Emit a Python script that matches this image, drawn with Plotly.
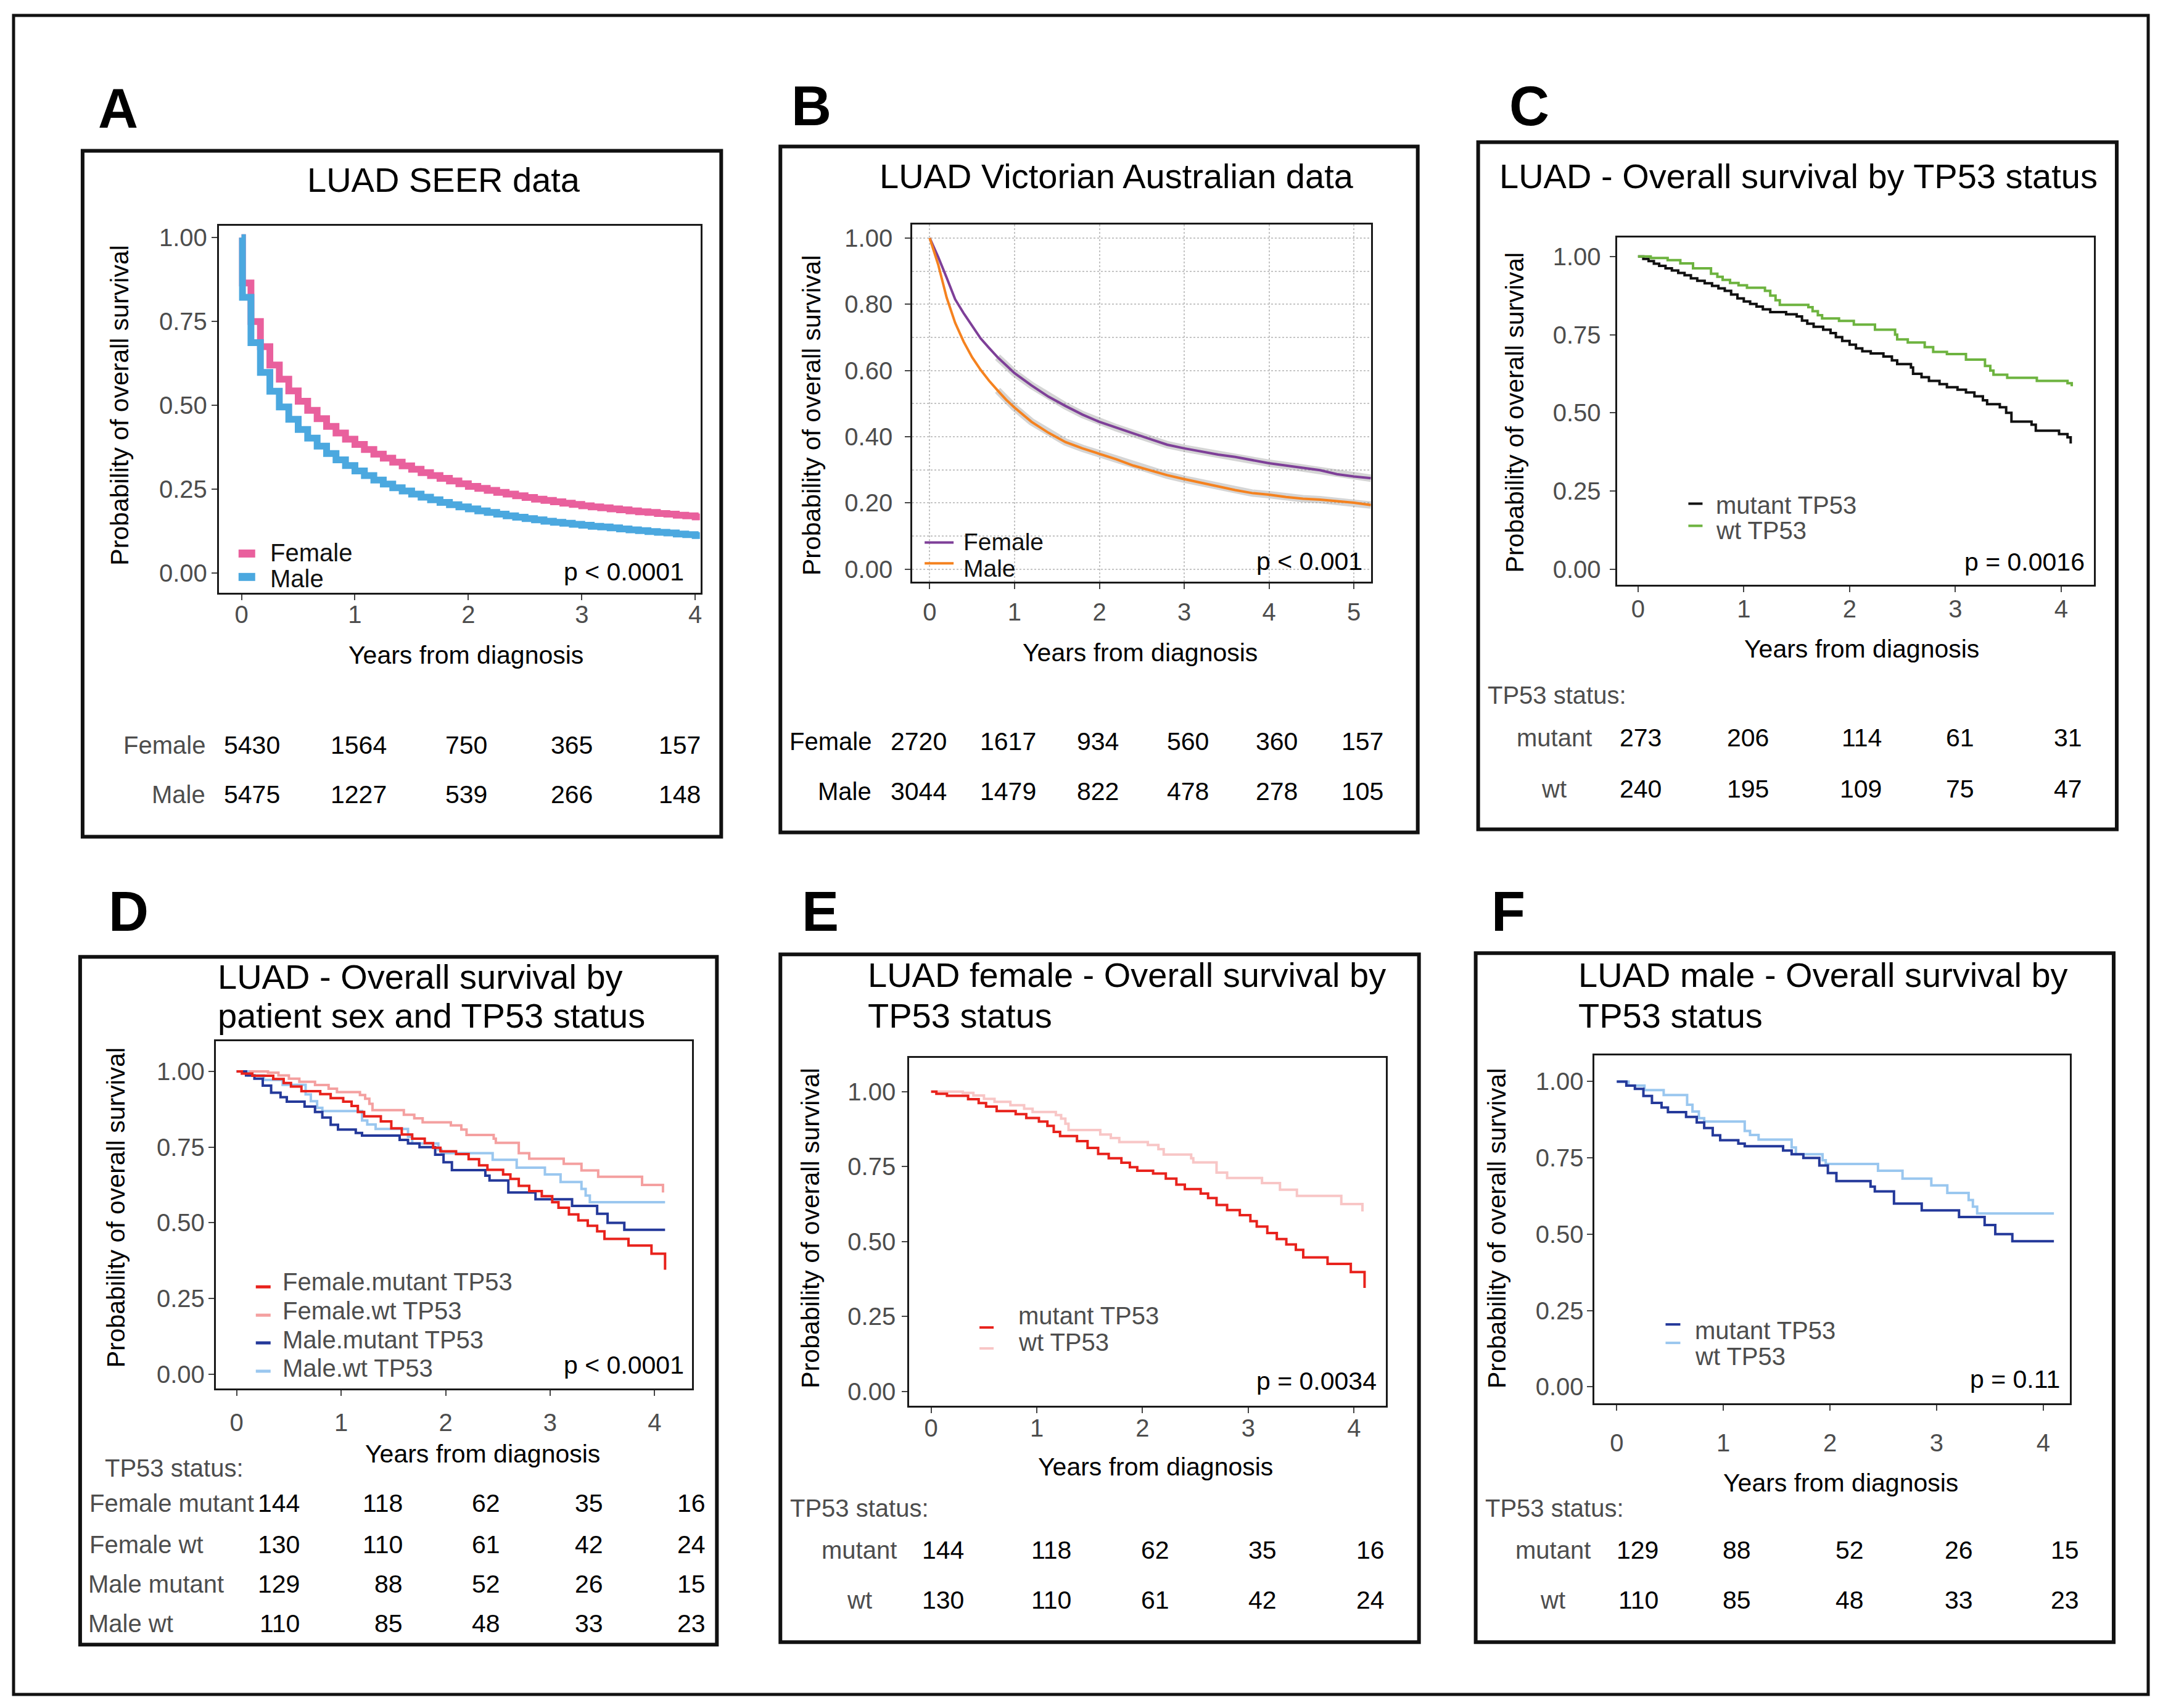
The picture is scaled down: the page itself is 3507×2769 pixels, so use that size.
import plotly.graph_objects as go

W, H = 3507, 2769
FONT = "Liberation Sans, Arial, Helvetica, sans-serif"

# ---------------- DATA ----------------
# Panel A: LUAD SEER data (monthly Kaplan-Meier steps)
seer_months = [0, 0.1, 1, 2, 3, 4, 5, 6, 7, 8, 9, 10, 11, 12, 13, 14, 15, 16, 17, 18, 19, 20,
               21, 22, 23, 24, 25, 26, 27, 28, 29, 30, 31, 32, 33, 34, 35, 36, 37, 38, 39, 40,
               41, 42, 43, 44, 45, 46, 47, 48, 48.5]
seer_female = [1.0, 0.865, 0.75, 0.675, 0.62, 0.578, 0.543, 0.512, 0.485, 0.46, 0.437, 0.417,
               0.399, 0.383, 0.368, 0.354, 0.342, 0.33, 0.319, 0.309, 0.299, 0.29, 0.282, 0.274,
               0.266, 0.258, 0.252, 0.246, 0.24, 0.235, 0.23, 0.225, 0.22, 0.216, 0.212, 0.208,
               0.204, 0.2, 0.197, 0.194, 0.191, 0.188, 0.185, 0.182, 0.18, 0.177, 0.175, 0.172,
               0.17, 0.167, 0.167]
seer_male = [1.0, 0.822, 0.687, 0.598, 0.542, 0.495, 0.458, 0.428, 0.402, 0.378, 0.356, 0.337,
             0.32, 0.304, 0.29, 0.277, 0.265, 0.254, 0.244, 0.235, 0.226, 0.218, 0.21, 0.203,
             0.197, 0.191, 0.185, 0.18, 0.175, 0.17, 0.166, 0.162, 0.158, 0.154, 0.151, 0.148,
             0.145, 0.142, 0.139, 0.137, 0.134, 0.131, 0.128, 0.126, 0.123, 0.121, 0.119, 0.116,
             0.114, 0.111, 0.111]
seer_risk_female = [5430, 1564, 750, 365, 157]
seer_risk_male = [5475, 1227, 539, 266, 148]

# Panel B: LUAD Victorian Australian data
vic_years = [0, 0.1, 0.2, 0.3, 0.4, 0.5, 0.6, 0.7, 0.8, 0.9, 1.0, 1.2, 1.4, 1.6, 1.8, 2.0, 2.2,
             2.4, 2.6, 2.8, 3.0, 3.2, 3.4, 3.6, 3.8, 4.0, 4.2, 4.4, 4.6, 4.8, 5.0, 5.2]
vic_female = [1.0, 0.943, 0.88, 0.815, 0.773, 0.735, 0.697, 0.668, 0.64, 0.616, 0.592, 0.555,
              0.521, 0.493, 0.467, 0.445, 0.427, 0.41, 0.393, 0.376, 0.365, 0.355, 0.346, 0.339,
              0.329, 0.32, 0.313, 0.306, 0.299, 0.287, 0.28, 0.275]
vic_male = [1.0, 0.92, 0.82, 0.744, 0.687, 0.64, 0.602, 0.569, 0.54, 0.512, 0.488, 0.445, 0.412,
            0.384, 0.365, 0.348, 0.332, 0.313, 0.299, 0.284, 0.272, 0.261, 0.249, 0.239, 0.23,
            0.225, 0.218, 0.213, 0.21, 0.206, 0.201, 0.194]
vic_risk_female = [2720, 1617, 934, 560, 360, 157]
vic_risk_male = [3044, 1479, 822, 478, 278, 105]

# Panel C: overall survival by TP53 status
c_mut_t = [0, 0.05, 0.1, 0.15, 0.2, 0.26, 0.32, 0.38, 0.44, 0.5, 0.56, 0.63, 0.7, 0.76, 0.82,
           0.88, 0.94, 1.0, 1.06, 1.12, 1.18, 1.25, 1.4, 1.5, 1.55, 1.6, 1.66, 1.75, 1.82, 1.87,
           1.93, 2.0, 2.06, 2.12, 2.2, 2.32, 2.4, 2.45, 2.58, 2.6, 2.68, 2.75, 2.85, 2.92, 3.02,
           3.1, 3.18, 3.26, 3.3, 3.42, 3.48, 3.53, 3.72, 3.76, 3.98, 4.06, 4.09]
c_mut_s = [1.0, 0.992, 0.985, 0.977, 0.97, 0.962, 0.955, 0.947, 0.94, 0.93, 0.922, 0.914, 0.906,
           0.898, 0.89, 0.878, 0.866, 0.856, 0.848, 0.84, 0.831, 0.822, 0.815, 0.808, 0.795,
           0.785, 0.775, 0.766, 0.755, 0.742, 0.73, 0.718, 0.706, 0.697, 0.69, 0.68, 0.668,
           0.656, 0.645, 0.625, 0.614, 0.602, 0.592, 0.582, 0.574, 0.565, 0.553, 0.54, 0.528,
           0.518, 0.5, 0.472, 0.462, 0.443, 0.432, 0.422, 0.402]
c_wt_t = [0, 0.12, 0.28, 0.4, 0.52, 0.69, 0.75, 0.8, 0.87, 0.95, 1.03, 1.2, 1.25, 1.3, 1.34,
          1.61, 1.65, 1.7, 1.74, 1.9, 2.04, 2.24, 2.43, 2.45, 2.55, 2.71, 2.79, 2.92, 3.1, 3.28,
          3.33, 3.36, 3.49, 3.77, 4.06, 4.1]
c_wt_s = [1.0, 0.995, 0.988, 0.978, 0.962, 0.945, 0.935, 0.925, 0.915, 0.908, 0.9, 0.89, 0.875,
          0.86, 0.845, 0.838, 0.825, 0.812, 0.802, 0.794, 0.782, 0.766, 0.75, 0.735, 0.725, 0.71,
          0.695, 0.688, 0.67, 0.65, 0.635, 0.622, 0.612, 0.602, 0.595, 0.585]
c_risk_mut = [273, 206, 114, 61, 31]
c_risk_wt = [240, 195, 109, 75, 47]

# Panels D/E/F: by sex and TP53 status
fm_t = [0, 0.05, 0.15, 0.35, 0.45, 0.52, 0.62, 0.8, 0.9, 1.02, 1.1, 1.16, 1.22, 1.38, 1.48, 1.58,
        1.68, 1.8, 1.88, 1.95, 2.1, 2.22, 2.32, 2.4, 2.55, 2.62, 2.7, 2.8, 2.92, 3.02, 3.08,
        3.18, 3.27, 3.36, 3.45, 3.52, 3.75, 3.97, 4.1]
fm_s = [1.0, 0.993, 0.986, 0.975, 0.962, 0.95, 0.935, 0.925, 0.912, 0.9, 0.886, 0.866, 0.852,
        0.835, 0.812, 0.792, 0.778, 0.763, 0.748, 0.736, 0.727, 0.71, 0.69, 0.675, 0.66, 0.645,
        0.622, 0.605, 0.588, 0.568, 0.55, 0.528, 0.508, 0.49, 0.472, 0.447, 0.425, 0.398, 0.345]
fw_t = [0, 0.3, 0.4, 0.5, 0.6, 0.75, 0.88, 0.96, 1.18, 1.23, 1.27, 1.3, 1.6, 1.7, 1.78, 2.05,
        2.15, 2.2, 2.46, 2.48, 2.7, 2.8, 3.13, 3.3, 3.46, 3.88, 4.08]
fw_s = [1.0, 0.996, 0.987, 0.976, 0.966, 0.955, 0.943, 0.932, 0.922, 0.91, 0.893, 0.872, 0.857,
        0.845, 0.832, 0.822, 0.808, 0.79, 0.778, 0.764, 0.73, 0.712, 0.695, 0.673, 0.652, 0.625,
        0.6]
mm_t = [0, 0.09, 0.17, 0.25, 0.33, 0.42, 0.48, 0.65, 0.75, 0.82, 0.9, 0.97, 1.14, 1.2, 1.56,
        1.64, 1.75, 1.9, 1.98, 2.06, 2.38, 2.42, 2.6, 2.86, 3.21, 3.45, 3.55, 3.71, 4.1]
mm_s = [1.0, 0.987, 0.976, 0.953, 0.93, 0.915, 0.9, 0.884, 0.866, 0.848, 0.824, 0.808, 0.797,
        0.788, 0.774, 0.762, 0.75, 0.725, 0.7, 0.674, 0.656, 0.64, 0.6, 0.578, 0.556, 0.53, 0.5,
        0.477, 0.477]
mw_t = [0, 0.11, 0.26, 0.44, 0.66, 0.71, 0.77, 0.82, 1.2, 1.25, 1.33, 1.64, 1.68, 1.93, 1.96,
        2.45, 2.68, 2.95, 3.1, 3.3, 3.34, 3.38, 4.1]
mw_s = [1.0, 0.987, 0.972, 0.956, 0.924, 0.902, 0.88, 0.869, 0.838, 0.825, 0.81, 0.784, 0.762,
        0.742, 0.73, 0.708, 0.682, 0.66, 0.635, 0.612, 0.59, 0.568, 0.568]
risk_fm = [144, 118, 62, 35, 16]
risk_fw = [130, 110, 61, 42, 24]
risk_mm = [129, 88, 52, 26, 15]
risk_mw = [110, 85, 48, 33, 23]

# ---------------- STYLE / LAYOUT ----------------
PINK_A, BLUE_A = "#E9609D", "#4BA8DF"
PURPLE, ORANGE = "#7E3F98", "#F5821F"
BLACK_C, GREEN_C = "#111111", "#6DB33F"
RED, SALMON, LIGHTPINK = "#E8221C", "#F4A0A0", "#F8C6C6"
NAVY, SKY = "#24399A", "#9AC7EF"
GREY_TXT = "#4D4D4D"

fig = go.Figure()
ann = []
shapes = []


def px(x):
    return x / W


def py(y):
    return 1 - y / H


def text(x, y, s, size=40, color="#000000", xa="center", ya="middle", angle=0, pad=1):
    ann.append(dict(x=px(x), y=py(y), xref="paper", yref="paper", text=s, showarrow=False,
                    xanchor=xa, yanchor=ya, textangle=angle, borderpad=pad,
                    font=dict(family=FONT, size=size, color=color)))


def rect(x0, y0, x1, y1, w):
    shapes.append(dict(type="rect", xref="paper", yref="paper", x0=px(x0), x1=px(x1),
                       y0=py(y1), y1=py(y0), line=dict(color="#111111", width=w),
                       fillcolor="rgba(0,0,0,0)", layer="below"))


def legline(x0, x1, y, color, w):
    shapes.append(dict(type="line", xref="paper", yref="paper", x0=px(x0), x1=px(x1),
                       y0=py(y), y1=py(y), line=dict(color=color, width=w), layer="above"))


QUARTER = [0, 0.25, 0.5, 0.75, 1.0]
PANELS = [
    dict(n=1, plot=(355, 364, 1137, 960), xr=[-0.2, 4.05], yr=[-0.06, 1.035],
         xt=[0, 1, 2, 3, 4], yt=QUARTER, xs=-11, ys=-1),
    dict(n=2, plot=(1480, 362, 2224, 942), xr=[-0.205, 5.2], yr=[-0.038, 1.04],
         xt=[0, 1, 2, 3, 4, 5], yt=[0, 0.2, 0.4, 0.6, 0.8, 1.0], xs=3, ys=12, grid=True),
    dict(n=3, plot=(2623, 383, 3397, 947), xr=[-0.2, 4.31], yr=[-0.05, 1.06],
         xt=[0, 1, 2, 3, 4], yt=QUARTER, xs=-7, ys=6),
    dict(n=4, plot=(350, 1688, 1123, 2252), xr=[-0.2, 4.36], yr=[-0.047, 1.10],
         xt=[0, 1, 2, 3, 4], yt=QUARTER, xs=9, ys=-2),
    dict(n=5, plot=(1475, 1715, 2248, 2280), xr=[-0.207, 4.3], yr=[-0.048, 1.113],
         xt=[0, 1, 2, 3, 4], yt=QUARTER, xs=-10, ys=2),
    dict(n=6, plot=(2586, 1711, 3358, 2276), xr=[-0.213, 4.25], yr=[-0.054, 1.086],
         xt=[0, 1, 2, 3, 4], yt=QUARTER, xs=18, ys=-3),
]

layout_axes = {}
for p in PANELS:
    n = p["n"]
    x0, y0, x1, y1 = p["plot"]
    sfx = "" if n == 1 else str(n)
    grid = p.get("grid", False)
    common = dict(showline=True, mirror=True, linecolor="#1a1a1a", linewidth=3,
                  ticks="outside", ticklen=9, tickwidth=2, tickcolor="#444444",
                  tickfont=dict(family=FONT, size=40, color=GREY_TXT),
                  zeroline=False, fixedrange=True)
    xa = dict(common, domain=[px(x0), px(x1)], range=p["xr"], anchor="y" + sfx,
              tickvals=p["xt"], ticklabelstandoff=p["xs"],
              showgrid=grid, gridcolor="#c4c4c4", gridwidth=2, griddash="dot")
    ya = dict(common, domain=[py(y1), py(y0)], range=p["yr"], anchor="x" + sfx,
              tickvals=p["yt"], tickformat=".2f", ticklabelstandoff=p["ys"],
              showgrid=grid, gridcolor="#c4c4c4", gridwidth=2, griddash="dot")
    if grid:
        ya["minor"] = dict(dtick=0.1, showgrid=True, gridcolor="#c4c4c4", gridwidth=2,
                           griddash="dot")
    layout_axes["xaxis" + sfx] = xa
    layout_axes["yaxis" + sfx] = ya


def curve(n, x, y, color, width, shape="hv"):
    sfx = "" if n == 1 else str(n)
    fig.add_trace(go.Scatter(x=x, y=y, mode="lines", line=dict(color=color, width=width,
                                                                 shape=shape),
                             xaxis="x" + sfx, yaxis="y" + sfx, showlegend=False,
                             hoverinfo="skip"))


# Panel A
seer_years = [m / 12 for m in seer_months]
curve(1, seer_years, seer_female, PINK_A, 11)
curve(1, seer_years, seer_male, BLUE_A, 11)

# Panel B (grey censor-mark haze under the lines)
k0 = next(i for i, t in enumerate(vic_years) if t >= 0.8)
curve(2, vic_years[k0:], vic_female[k0:], "rgba(150,150,150,0.40)", 12, "linear")
curve(2, vic_years[k0:], vic_male[k0:], "rgba(150,150,150,0.40)", 12, "linear")
curve(2, vic_years, vic_female, PURPLE, 4, "linear")
curve(2, vic_years, vic_male, ORANGE, 4, "linear")

# Panel C
curve(3, c_mut_t, c_mut_s, BLACK_C, 4)
curve(3, c_wt_t, c_wt_s, GREEN_C, 4)

# Panel D
curve(4, fw_t, fw_s, SALMON, 4)
curve(4, mw_t, mw_s, SKY, 4)
curve(4, mm_t, mm_s, NAVY, 4)
curve(4, fm_t, fm_s, RED, 4)

# Panel E
curve(5, fw_t, fw_s, LIGHTPINK, 4)
curve(5, fm_t, fm_s, RED, 4)

# Panel F
curve(6, mw_t, mw_s, SKY, 4)
curve(6, mm_t, mm_s, NAVY, 4)

# ---------------- frames, titles, labels ----------------
rect(22, 22, 3485, 2749, 5)
for b in [(134, 242, 1170, 1356), (1266, 235, 2300, 1349), (2398, 228, 3434, 1344),
          (130, 1551, 1163, 2668), (1266, 1547, 2302, 2664), (2394, 1545, 3429, 2664)]:
    rect(*b, 6)

for letter, x, y in [("A", 192, 173), ("B", 1316, 169), ("C", 2481, 169),
                     ("D", 209, 1478), ("E", 1331, 1478), ("F", 2447, 1478)]:
    text(x, y, "<b>%s</b>" % letter, size=90)

text(720, 289, "LUAD SEER data", size=56)
text(1812, 283, "LUAD Victorian Australian data", size=56)
text(2918, 283, "LUAD - Overall survival by TP53 status", size=56)
text(351, 1583, "LUAD - Overall survival by", size=56, xa="left")
text(351, 1646, "patient sex and TP53 status", size=56, xa="left")
text(1406, 1580, "LUAD female - Overall survival by", size=56, xa="left")
text(1406, 1646, "TP53 status", size=56, xa="left")
text(2558, 1580, "LUAD male - Overall survival by", size=56, xa="left")
text(2558, 1646, "TP53 status", size=56, xa="left")

YT = "Probability of overall survival"
XT = "Years from diagnosis"
for x, y in [(194, 655), (1317, 671), (2457, 667), (189, 1958), (1315, 1991), (2429, 1992)]:
    text(x, y, YT, size=41, angle=-90)
for x, y in [(756, 1061), (1850, 1057), (3020, 1051), (783, 2358), (1875, 2379),
             (2986, 2405)]:
    text(x, y, XT, size=41)

# p-values
for x, y, s in [(1112, 926, "p < 0.0001"), (2212, 909, "p < 0.001"), (3384, 910, "p = 0.0016"),
                (1112, 2214, "p < 0.0001"), (2235, 2240, "p = 0.0034"), (3344, 2237, "p = 0.11")]:
    text(x, y, s, size=41, xa="right")

# legends
legline(387, 414, 896, PINK_A, 13)
legline(387, 414, 934, BLUE_A, 13)
text(437, 895, "Female", size=40, color="#111111", xa="left", pad=0)
text(437, 937, "Male", size=40, color="#111111", xa="left", pad=0)

legline(1500, 1547, 878, PURPLE, 4)
legline(1500, 1547, 912, ORANGE, 4)
text(1562, 877, "Female", size=39, color="#111111", xa="left", pad=0)
text(1562, 920, "Male", size=39, color="#111111", xa="left", pad=0)

legline(2739, 2762, 815, BLACK_C, 4)
legline(2739, 2762, 851, GREEN_C, 4)
text(2783, 817, "mutant TP53", size=40, color=GREY_TXT, xa="left", pad=0)
text(2783, 859, "wt TP53", size=40, color=GREY_TXT, xa="left", pad=0)

for yl, yt_, col, lab in [(2087, 2079, RED, "Female.mutant TP53"),
                          (2133, 2126, SALMON, "Female.wt TP53"),
                          (2178, 2173, NAVY, "Male.mutant TP53"),
                          (2224, 2219, SKY, "Male.wt TP53")]:
    legline(415, 439, yl, col, 5)
    text(457, yt_, lab, size=40, color=GREY_TXT, xa="left", pad=0)

legline(1589, 1612, 2153, RED, 4)
legline(1589, 1612, 2187, LIGHTPINK, 4)
text(1651, 2134, "mutant TP53", size=40, color=GREY_TXT, xa="left", pad=0)
text(1651, 2177, "wt TP53", size=40, color=GREY_TXT, xa="left", pad=0)

legline(2702, 2726, 2148, NAVY, 4)
legline(2702, 2726, 2178, SKY, 4)
text(2749, 2158, "mutant TP53", size=40, color=GREY_TXT, xa="left", pad=0)
text(2749, 2200, "wt TP53", size=40, color=GREY_TXT, xa="left", pad=0)

# ---------------- risk tables ----------------
def row(label, lx, la, y, values, cols, ca, lcolor=GREY_TXT):
    text(lx, y, label, size=40, color=lcolor, xa=la)
    for v, cx in zip(values, cols):
        text(cx, y, str(v), size=41, color="#000000", xa=ca)


A_cols = [409, 582, 756, 928, 1103]
row("Female", 335, "right", 1207, seer_risk_female, A_cols, "center")
row("Male", 335, "right", 1287, seer_risk_male, A_cols, "center")

B_cols = [1490, 1635, 1781, 1927, 2071, 2210]
row("Female", 1416, "right", 1201, vic_risk_female, B_cols, "center", "#000000")
row("Male", 1416, "right", 1282, vic_risk_male, B_cols, "center", "#000000")

text(2411, 1126, "TP53 status:", size=40, color=GREY_TXT, xa="left")
C_cols = [2698, 2872, 3055, 3205, 3380]
row("mutant", 2521, "center", 1195, c_risk_mut, C_cols, "right")
row("wt", 2521, "center", 1278, c_risk_wt, C_cols, "right")

text(168, 2381, "TP53 status:", size=40, color=GREY_TXT, xa="left")
D_cols = [488, 655, 813, 981, 1147]
row("Female mutant", 143, "left", 2438, risk_fm, D_cols, "right")
row("Female wt", 143, "left", 2506, risk_fw, D_cols, "right")
row("Male mutant", 141, "left", 2570, risk_mm, D_cols, "right")
row("Male wt", 141, "left", 2634, risk_mw, D_cols, "right")

text(1280, 2446, "TP53 status:", size=40, color=GREY_TXT, xa="left")
E_cols = [1566, 1740, 1899, 2073, 2248]
row("mutant", 1394, "center", 2515, risk_fm, E_cols, "right")
row("wt", 1394, "center", 2596, risk_fw, E_cols, "right")

text(2407, 2446, "TP53 status:", size=40, color=GREY_TXT, xa="left")
F_cols = [2693, 2843, 3026, 3203, 3375]
row("mutant", 2519, "center", 2515, risk_mm, F_cols, "right")
row("wt", 2519, "center", 2596, risk_mw, F_cols, "right")

fig.update_layout(width=W, height=H, margin=dict(l=0, r=0, t=0, b=0),
                  paper_bgcolor="white", plot_bgcolor="white", showlegend=False,
                  font=dict(family=FONT), annotations=ann, shapes=shapes, **layout_axes)

fig.write_html("out.html", config={"displayModeBar": False, "staticPlot": True},
               post_script="document.body.style.margin='0px';")
